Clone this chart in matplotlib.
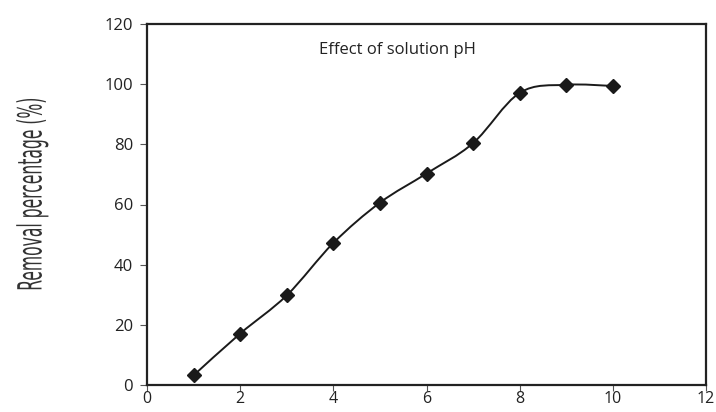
import numpy as np
import matplotlib.pyplot as plt
from matplotlib.path import Path
from matplotlib.patches import PathPatch
from matplotlib.patheffects import AbstractPathEffect
from matplotlib.transforms import Affine2D

ph = [1, 2, 3, 4, 5, 6, 7, 8, 9, 10]
removal = [3.2, 17.1, 29.8, 47.2, 60.6, 70.3, 80.4, 97.1, 99.8, 99.4]

xticks = [0, 2, 4, 6, 8, 10, 12]
yticks = [0, 20, 40, 60, 80, 100, 120]


def smooth_path(x, y, t=1 / 6):
    # Excel-style smoothed line: cubic Bezier segments through the points
    x = np.asarray(x, float)
    y = np.asarray(y, float)
    n = len(x)
    verts = [(x[0], y[0])]
    codes = [Path.MOVETO]
    for i in range(n - 1):
        x0, y0 = (x[i - 1], y[i - 1]) if i > 0 else (x[i], y[i])
        x3, y3 = (x[i + 2], y[i + 2]) if i + 2 < n else (x[i + 1], y[i + 1])
        c1 = (x[i] + (x[i + 1] - x0) * t, y[i] + (y[i + 1] - y0) * t)
        c2 = (x[i + 1] - (x3 - x[i]) * t, y[i + 1] - (y3 - y[i]) * t)
        verts += [c1, c2, (x[i + 1], y[i + 1])]
        codes += [Path.CURVE4] * 3
    return Path(verts, codes)


class Squeeze(AbstractPathEffect):
    """Squash the drawn glyphs around a point (pixels), like a narrow font."""

    def __init__(self, sx, sy, cx, cy):
        super().__init__()
        self.extra = Affine2D().translate(-cx, -cy).scale(sx, sy).translate(cx, cy)

    def draw_path(self, renderer, gc, tpath, affine, rgbFace=None):
        renderer.draw_path(gc, tpath, affine + self.extra, rgbFace)


plt.rcParams['font.family'] = ['Open Sans', 'DejaVu Sans']

W, H = 716, 412
fig = plt.figure(figsize=(W / 100, H / 100), dpi=100)
ax = fig.add_axes([147 / W, 1 - 385 / H, 559 / W, 361 / H])

ax.add_patch(PathPatch(smooth_path(ph, removal), fill=False,
                       edgecolor='#1a1a1a', lw=1.4))
ax.plot(ph, removal, ls='none', marker='D', ms=7, color='#1a1a1a')

ax.set_xlim(0, 12)
ax.set_ylim(0, 120)
ax.set_xticks(xticks)
ax.set_yticks(yticks)
ax.tick_params(direction='out', length=5, width=0.8, colors='#555555',
               labelcolor='#222222', labelsize=12)
ax.tick_params(axis='y', pad=5)
ax.tick_params(axis='x', length=4, pad=0.5, labelsize=11.5)
for s in ax.spines.values():
    s.set_linewidth(1.6)
    s.set_color('#222222')

ax.text(5.37, 111.4, 'Effect of solution pH', ha='center', va='center',
        fontsize=12, color='#222222')

lx, ly = 32, H - 194
lab = fig.text(lx / W, ly / H, 'Removal percentage (%)', rotation=90,
               ha='center', va='center', fontsize=24, color='#333333',
               family='DejaVu Sans', fontstretch='condensed')
lab.set_path_effects([Squeeze(1.0, 0.52, lx, ly)])

fig.savefig('out.png', dpi=100)
